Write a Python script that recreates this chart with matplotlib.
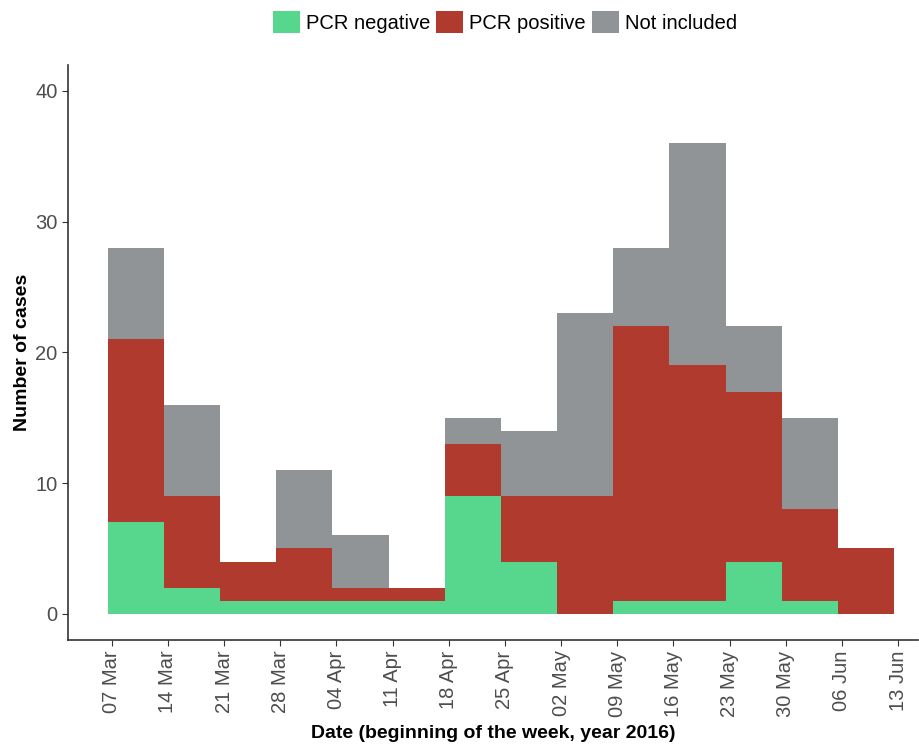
import matplotlib
matplotlib.use("Agg")
import matplotlib.pyplot as plt
import matplotlib.dates as mdates
import numpy as np
from datetime import datetime, timedelta

plt.rcParams['font.family'] = ['Liberation Sans', 'DejaVu Sans']

weeks = ["2016-03-07", "2016-03-14", "2016-03-21", "2016-03-28", "2016-04-04",
         "2016-04-11", "2016-04-18", "2016-04-25", "2016-05-02", "2016-05-09",
         "2016-05-16", "2016-05-23", "2016-05-30", "2016-06-06"]
pcr_negative = [7, 2, 1, 1, 1, 1, 9, 4, 0, 1, 1, 4, 1, 0]
pcr_positive = [14, 7, 3, 4, 1, 1, 4, 5, 9, 21, 18, 13, 7, 5]
not_included = [7, 7, 0, 6, 4, 0, 2, 5, 14, 6, 17, 5, 7, 0]
tick_dates = weeks + ["2016-06-13"]

green = "#57D68D"
red = "#B03A2E"
grey = "#909497"

starts = [datetime.strptime(w, "%Y-%m-%d") - timedelta(hours=12) for w in weeks]
x = mdates.date2num(starts)
neg = np.array(pcr_negative)
pos = np.array(pcr_positive)
notinc = np.array(not_included)

fig = plt.figure(figsize=(9.2, 7.48), dpi=100)
ax = fig.add_axes([0.074, 0.1444, 0.924, 0.769])

ax.bar(x, neg, width=7, align="edge", color=green, linewidth=0, label="PCR negative")
ax.bar(x, pos, width=7, bottom=neg, align="edge", color=red, linewidth=0, label="PCR positive")
ax.bar(x, notinc, width=7, bottom=neg + pos, align="edge", color=grey, linewidth=0, label="Not included")

ticks = mdates.date2num([datetime.strptime(d, "%Y-%m-%d") for d in tick_dates])
ax.set_xticks(ticks)
ax.set_xticklabels([datetime.strptime(d, "%Y-%m-%d").strftime("%d %b") for d in tick_dates],
                   rotation=90, fontsize=14.5, color="#4D4D4D")
ax.set_xlim(ticks[0] - 5.45, ticks[0] + 100.5)
ax.set_ylim(-2, 42)
ax.set_yticks([0, 10, 20, 30, 40])
ax.tick_params(axis="y", labelsize=14.5, labelcolor="#4D4D4D", length=4, color="#333333")
ax.tick_params(axis="x", length=4, color="#333333")

for s in ["top", "right"]:
    ax.spines[s].set_visible(False)
for s in ["left", "bottom"]:
    ax.spines[s].set_color("#333333")
    ax.spines[s].set_linewidth(1.2)

ax.set_ylabel("Number of cases", fontsize=14, fontweight="bold", labelpad=3)
ax.set_xlabel("Date (beginning of the week, year 2016)", fontsize=14, fontweight="bold", labelpad=6)

handles, labels = ax.get_legend_handles_labels()
fig.legend(handles, labels, loc="center", bbox_to_anchor=(505 / 920, 1 - 22 / 748), ncol=3,
           frameon=False, fontsize=14.5, handlelength=1.35, handleheight=1.35,
           handletextpad=0.3, columnspacing=0.3)

fig.savefig("out.png", dpi=100)
